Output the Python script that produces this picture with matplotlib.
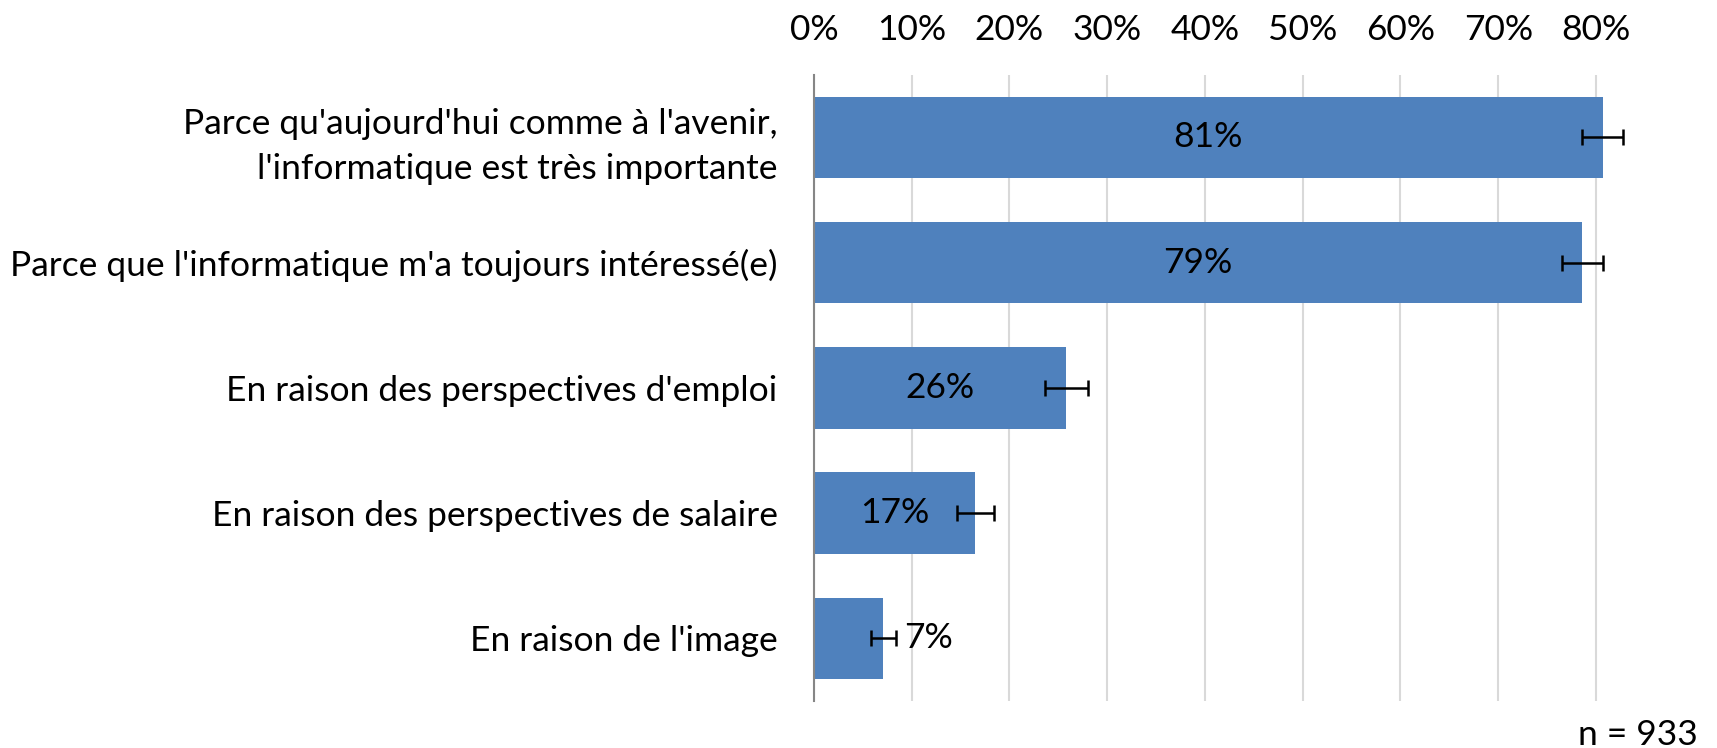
import matplotlib
matplotlib.use("Agg")
import matplotlib.pyplot as plt
import numpy as np

# data
categories = ["Parce qu'aujourd'hui comme à l'avenir,\nl'informatique est très importante",
              "Parce que l'informatique m'a toujours intéressé(e)",
              "En raison des perspectives d'emploi",
              "En raison des perspectives de salaire",
              "En raison de l'image"]
values = [0.807, 0.786, 0.258, 0.165, 0.071]
errors = [0.021, 0.021, 0.022, 0.019, 0.013]
labels = ["81%", "79%", "26%", "17%", "7%"]
ticks = [0, 0.1, 0.2, 0.3, 0.4, 0.5, 0.6, 0.7, 0.8]
n_text = "n = 933"

plt.rcParams['font.family'] = ['Lato', 'DejaVu Sans']
fs = 25.5

fig = plt.figure(figsize=(17.17, 7.48), dpi=100)
ax = fig.add_axes([0.474, 0.063, 0.484, 0.837])

y = np.arange(len(categories))
ax.barh(y, values, height=0.65, color="#4F81BD", zorder=2)
ax.errorbar(values, y, xerr=errors, fmt='none', ecolor='black',
            elinewidth=1.8, capsize=6, capthick=1.8, zorder=3)

# value labels: centred in the bar, outside for the small one
for i, (v, lab) in enumerate(zip(values, labels)):
    if v > 0.1:
        ax.text(v / 2, i, lab, ha='center', va='center', fontsize=fs, zorder=4)
    else:
        ax.text(v + errors[i] + 0.008, i, lab, ha='left', va='center', fontsize=fs, zorder=4)

ax.set_ylim(len(categories) - 0.5, -0.5)
ax.set_xlim(0, 0.85)
ax.set_yticks(y)
ax.set_yticklabels(categories, fontsize=fs, ha='right', linespacing=1.5)
ax.set_xticks(ticks)
ax.set_xticklabels([f"{int(round(t * 100))}%" for t in ticks], fontsize=fs)
ax.xaxis.tick_top()
ax.tick_params(axis='x', length=0, pad=21)
ax.tick_params(axis='y', length=0, pad=26)
ax.grid(axis='x', color='#D9D9D9', linewidth=1.5, zorder=0)
for s in ['top', 'right', 'bottom']:
    ax.spines[s].set_visible(False)
ax.spines['left'].set_color('#868686')
ax.spines['left'].set_linewidth(1.5)

fig.text(0.989, 0.018, n_text, ha='right', va='center', fontsize=fs)

fig.savefig("out.png", dpi=100)
